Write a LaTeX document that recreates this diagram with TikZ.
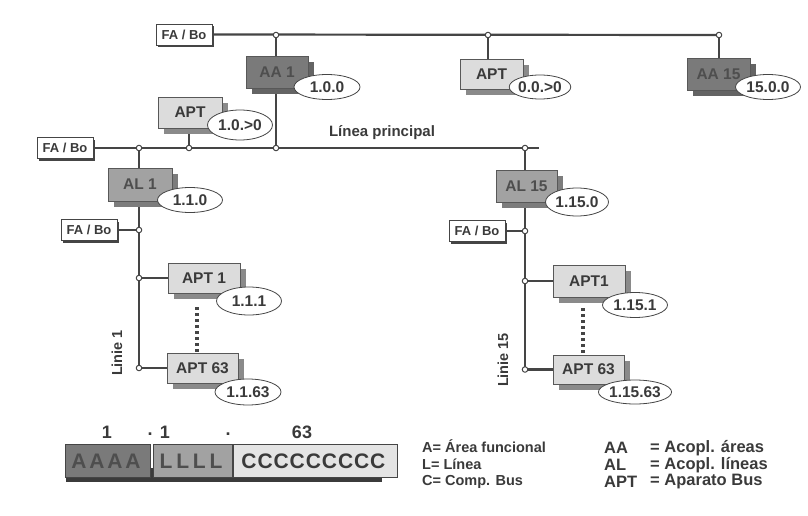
\documentclass[tikz,border=0pt]{standalone}
\usepackage{fontspec}
\setmainfont{Liberation Sans}
\usetikzlibrary{shapes.geometric,shadows,backgrounds}
\definecolor{linec}{HTML}{454545}
\definecolor{aafill}{HTML}{7A7A7A}
\definecolor{aash}{HTML}{646464}
\definecolor{aatxt}{HTML}{4E4E4E}
\definecolor{alfill}{HTML}{A2A2A2}
\definecolor{alsh}{HTML}{7C7C7C}
\definecolor{aptfill}{HTML}{DCDCDC}
\definecolor{aptsh}{HTML}{8A8A8A}
\definecolor{txt}{HTML}{3A3A3A}
\definecolor{cfill}{HTML}{E4E4E4}
\begin{document}
\begin{tikzpicture}[x=1pt,y=-1pt,
  bus/.style={draw=linec,line width=2.2pt},
  jn/.style={circle,draw=linec,fill=white,line width=1pt,inner sep=0pt,minimum size=5.5pt},
  fabo/.style={draw=linec,line width=0.7pt,fill=white,minimum width=56pt,minimum height=21pt,inner sep=0pt,
    font=\bfseries\fontsize{13}{14}\selectfont,text=txt,
    drop shadow={shadow xshift=2pt,shadow yshift=-2pt,fill=linec,opacity=1}},
  devbox/.style={draw=linec!90,line width=0.6pt,inner sep=0pt,font=\bfseries\fontsize{15.5}{18}\selectfont},
  aabox/.style={devbox,fill=aafill,text=aatxt,drop shadow={shadow xshift=6pt,shadow yshift=-6pt,fill=aash,opacity=1}},
  albox/.style={devbox,fill=alfill,text=txt!90,drop shadow={shadow xshift=6pt,shadow yshift=-6pt,fill=alsh,opacity=1}},
  aptbox/.style={devbox,fill=aptfill,text=txt,drop shadow={shadow xshift=6pt,shadow yshift=-6pt,fill=aptsh,opacity=1}},
  addr/.style={ellipse,draw=linec,line width=0.8pt,fill=white,inner sep=0pt,font=\bfseries\fontsize{15.5}{18}\selectfont,text=txt},
  dots/.style={draw=linec,line width=3.2pt,dash pattern=on 3pt off 3pt},
  lbl/.style={font=\bfseries\fontsize{15}{18}\selectfont,text=txt,inner sep=0pt},
  leg/.style={font=\bfseries\fontsize{14.5}{17}\selectfont,text=txt,inner sep=0pt,anchor=west},
  legr/.style={font=\bfseries\fontsize{16.5}{19}\selectfont,text=txt,inner sep=0pt,anchor=west},
  barletter/.style={font=\bfseries\fontsize{21}{24}\selectfont,inner sep=0pt},
  num/.style={font=\bfseries\fontsize{18}{21}\selectfont,text=txt,inner sep=0pt}
]
\useasboundingbox (0,0) rectangle (808,516);

% ---------- nodes ----------
\node[fabo] (fa0) at (184,34.5) {FA / Bo};
\node[fabo] (fa1) at (65,148) {FA / Bo};
\node[fabo] (fa2) at (89,230) {FA / Bo};
\node[fabo] (fa3) at (477,231) {FA / Bo};

\node[aabox,minimum width=62pt,minimum height=32pt] (aa1) at (277,72) {AA 1};
\node[aptbox,minimum width=63pt,minimum height=30pt] (apt0) at (491.5,74) {APT};
\node[aabox,minimum width=63pt,minimum height=32pt] (aa15) at (718.5,74) {AA 15};
\node[aptbox,minimum width=64pt,minimum height=31pt] (apt00) at (190,112.5) {APT};

\node[albox,minimum width=64pt,minimum height=33pt] (al1) at (140,184.5) {AL 1};
\node[albox,minimum width=61pt,minimum height=32pt] (al15) at (526.5,186) {AL 15};

\node[aptbox,minimum width=72pt,minimum height=30pt] (apt1) at (204,278) {APT 1};
\node[aptbox,minimum width=71pt,minimum height=30pt] (apt63) at (202.5,368) {APT 63};
\node[aptbox,minimum width=72pt,minimum height=32pt] (apt1r) at (589,281) {APT1};
\node[aptbox,minimum width=71pt,minimum height=29pt] (apt63r) at (588.5,369.5) {APT 63};

\node[addr,minimum width=66pt,minimum height=25pt] (e1) at (327,87) {1.0.0};
\node[addr,minimum width=58pt,minimum height=24pt] (e2) at (540,87) {0.0.>0};
\node[addr,minimum width=65pt,minimum height=25pt] (e3) at (768,87) {15.0.0};
\node[addr,minimum width=65pt,minimum height=30pt] (e4) at (240,125) {1.0.>0};
\node[addr,minimum width=65pt,minimum height=25pt] (e5) at (190,200) {1.1.0};
\node[addr,minimum width=63pt,minimum height=28pt] (e6) at (577,202) {1.15.0};
\node[addr,minimum width=65pt,minimum height=28pt] (e7) at (249,301) {1.1.1};
\node[addr,minimum width=66pt,minimum height=26pt] (e8) at (248,392) {1.1.63};
\node[addr,minimum width=65pt,minimum height=25pt] (e9) at (635,305) {1.15.1};
\node[addr,minimum width=65pt,minimum height=24pt] (e10) at (635,392) {1.15.63};

% junctions
\node[jn] (jt1) at (276,35) {};
\node[jn] (jt2) at (488,35) {};
\node[jn] (jt3) at (719,35) {};
\node[jn] (jm1) at (139,148) {};
\node[jn] (jm2) at (189,148) {};
\node[jn] (jm3) at (276,148) {};
\node[jn] (jm4) at (525,148) {};
\node[jn] (jl1) at (139,230) {};
\node[jn] (jl2) at (139,278) {};
\node[jn] (jl4) at (139,368) {};
\node[jn] (jr1) at (525,231) {};
\node[jn] (jr2) at (525,281) {};
\node[jn] (jr4) at (525,369.5) {};
\coordinate (mend) at (539,148);

% labels
\node[lbl] (lp) at (382,133) {Línea principal};
\node[lbl,font=\bfseries\fontsize{14.5}{17}\selectfont,rotate=90] (l1) at (117,353) {Linie 1};
\node[lbl,font=\bfseries\fontsize{14.5}{17}\selectfont,rotate=90] (l15) at (503,360) {Linie 15};

% ---------- connectors (behind) ----------
\begin{scope}[on background layer]
\draw[bus] (fa0.east) -- (jt3.center);
\draw[bus] (jt1.center) -- (jm3.center);
\draw[bus] (jt2.center) -- (jt2 |- apt0.north);
\draw[bus] (jt3.center) -- (jt3 |- aa15.north);
\draw[bus] (fa1.east) -- (mend);
\draw[bus] (jm2.center) -- (jm2 |- apt00.south);
\draw[bus] (jm1.center) -- (jl4.center);
\draw[bus] (fa2.east) -- (jl1.center);
\draw[bus] (jl2.center) -- (apt1.west);
\draw[bus] (jl4.center) -- (apt63.west);
\draw[bus] (jm4.center) -- (jr4.center);
\draw[bus] (fa3.east) -- (jr1.center);
\draw[bus] (jr2.center) -- (apt1r.west);
\draw[bus] (jr4.center) -- (apt63r.west);
\end{scope}
\draw[dots] ([xshift=-7pt,yshift=-14pt]apt1.south) -- ([xshift=-5.5pt]apt63.north);
\draw[dots] ([xshift=-6pt,yshift=-11pt]apt1r.south) -- ([xshift=-5.5pt]apt63r.north);

% ---------- address bar ----------
\fill[linec!85!black] (66,468) rectangle (382,482);
\node[draw=linec,line width=0.7pt,fill=aafill,minimum width=85pt,minimum height=33pt,inner sep=0pt] (bA) at (107.5,460.5) {};
\node[draw=linec,line width=0.7pt,fill=alfill,minimum width=79pt,minimum height=33pt,inner sep=0pt] (bL) at (192.5,460.5) {};
\node[draw=linec,line width=0.7pt,fill=cfill,minimum width=164pt,minimum height=33pt,inner sep=0pt] (bC) at (315,460.5) {};
\foreach \i in {0,...,3} \node[barletter,text=aatxt] (ba\i) at (79+18*\i,461) {A};
\foreach \i in {0,...,3} \node[barletter,text=txt!90] (bl\i) at (166+16.7*\i,461) {L};
\foreach \i in {0,...,8} \node[barletter,text=txt] (bc\i) at (249+16.1*\i,461) {C};

\node[num] (n1) at (107,432) {1};
\node[num] (d1) at (150,434) {.};
\node[num] (n2) at (165,432) {1};
\node[num] (d2) at (228,434) {.};
\node[num] (n3) at (302,432) {63};

% ---------- legends ----------
\node[leg] (g1) at (422,446) {A= Área funcional};
\node[leg] (g2) at (422,464) {L= Línea};
\node[leg] (g3) at (422,482) {C= Comp. Bus};
\node[legr] (h1) at (604,448) {AA};
\node[legr] (h2) at (604,465) {AL};
\node[legr] (h3) at (604,482) {APT};
\node[legr] (k1) at (650,448) {= Acopl. áreas};
\node[legr] (k2) at (650,465) {= Acopl. líneas};
\node[legr] (k3) at (650,482) {= Aparato Bus};
\end{tikzpicture}
\end{document}
